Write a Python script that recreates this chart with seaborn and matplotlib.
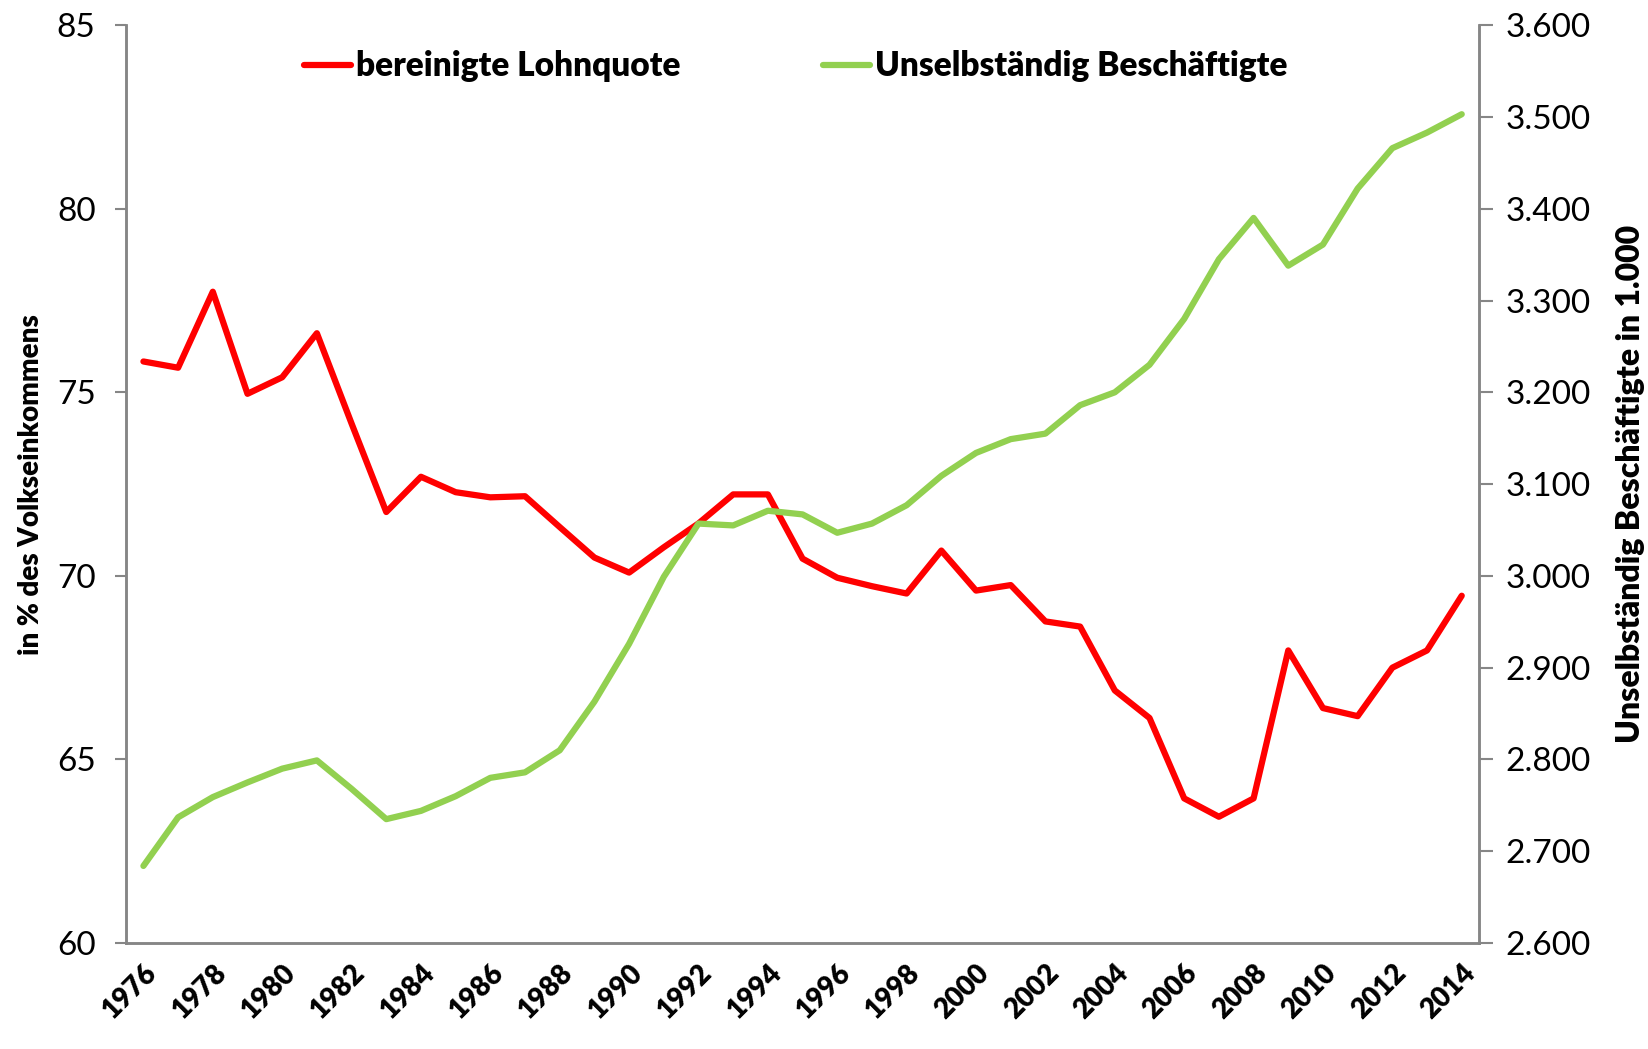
import matplotlib
matplotlib.use("Agg")
import matplotlib.pyplot as plt
from matplotlib.ticker import FuncFormatter, FixedLocator
import seaborn as sns

# data
years = list(range(1976, 2015))
lohnquote = [75.84, 75.67, 77.74, 74.96, 75.41, 76.61, 74.15, 71.74, 72.70, 72.28,
             72.14, 72.17, 71.33, 70.50, 70.09, 70.78, 71.43, 72.22, 72.22, 70.47,
             69.95, 69.72, 69.52, 70.69, 69.60, 69.75, 68.76, 68.62, 66.88, 66.13,
             63.94, 63.44, 63.94, 67.97, 66.40, 66.18, 67.50, 67.97, 69.46]
beschaeftigte = [2684, 2737, 2759, 2775, 2790, 2799, 2768, 2735, 2744, 2760,
                 2780, 2786, 2810, 2863, 2926, 2999, 3057, 3055, 3071, 3067,
                 3047, 3057, 3077, 3109, 3134, 3149, 3155, 3186, 3200, 3230,
                 3280, 3345, 3390, 3338, 3361, 3422, 3466, 3483, 3503]
year_labels = [str(y) for y in years[::2]]

sns.set_style("white")
plt.rcParams['font.family'] = ['Lato', 'DejaVu Sans']

red = "#FF0000"
green = "#92D050"
grey = "#868686"

fig = plt.figure(figsize=(16.48, 10.49), dpi=100)
ax = fig.add_axes([0.0765, 0.101, 0.821, 0.875])
ax2 = ax.twinx()

sns.lineplot(x=years, y=lohnquote, ax=ax, color=red, lw=4.5, legend=False)
sns.lineplot(x=years, y=beschaeftigte, ax=ax2, color=green, lw=4.5, legend=False)

ax.set_xlim(1975.5, 2014.5)
ax.set_ylim(60, 85)
ax2.set_ylim(2600, 3600)
ax.set_yticks([60, 65, 70, 75, 80, 85])
ax2.set_yticks(range(2600, 3601, 100))
ax2.yaxis.set_major_formatter(FuncFormatter(lambda v, p: f"{v:,.0f}".replace(",", ".")))

# year labels every 2 years, tick marks on category borders
ax.xaxis.set_major_locator(FixedLocator(years[::2]))
ax.set_xticklabels(year_labels, rotation=45, ha='right', rotation_mode='anchor',
                   fontsize=20, fontweight='heavy', color='black')
ax.xaxis.set_minor_locator(FixedLocator([y - 0.5 for y in years] + [2014.5]))
ax.tick_params(axis='x', which='major', length=0, pad=12)
ax.tick_params(axis='x', which='minor', length=8, width=1.5, color=grey, direction='out')

ax.tick_params(axis='y', length=8, width=1.5, color=grey, pad=14, labelsize=24,
               labelcolor='black')
ax2.tick_params(axis='y', length=10, width=1.5, color=grey, pad=9, labelsize=24,
                labelcolor='black')
for lab in ax.get_yticklabels() + ax2.get_yticklabels():
    lab.set_fontweight('normal')

for a in (ax, ax2):
    a.spines['top'].set_visible(False)
    for s in ('left', 'right', 'bottom'):
        a.spines[s].set_color(grey)
        a.spines[s].set_linewidth(1.8)

ax.set_ylabel("in % des Volkseinkommens", fontsize=20, fontweight='heavy',
              color='black', labelpad=9)
ax2.set_ylabel("Unselbständig Beschäftigte in 1.000", fontsize=23, fontweight='heavy',
               color='black', rotation=90, labelpad=18)
ax.set_xlabel("")

handles = ax.get_lines()[:1] + ax2.get_lines()[:1]
ax2.legend(handles, ["bereinigte Lohnquote", "Unselbständig Beschäftigte"],
           loc='center', bbox_to_anchor=(0.495, 0.955), ncol=2, frameon=False,
           prop={'weight': 'heavy', 'size': 24}, handlelength=1.4, handletextpad=0.15,
           columnspacing=4.3, labelcolor='black')

fig.savefig("out.png", dpi=100)
